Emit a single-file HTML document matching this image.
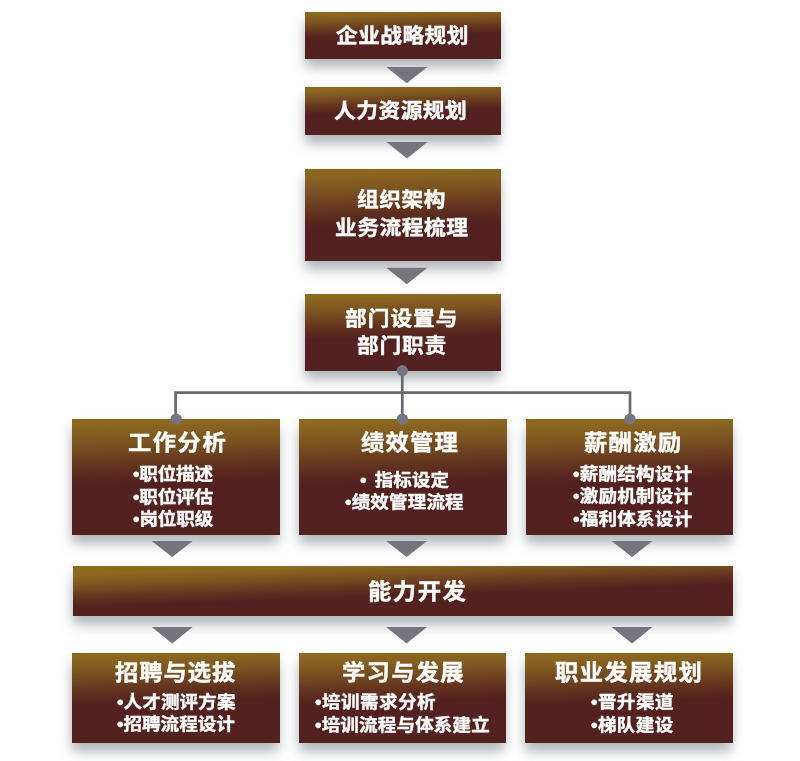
<!DOCTYPE html><html lang="zh-CN"><head><meta charset="utf-8"><title>人力资源规划流程</title><style>
html,body{margin:0;padding:0;background:#fff}
#c{position:relative;width:800px;height:761px;overflow:hidden;background:#fff;font-family:"Liberation Sans","Noto Sans CJK SC",sans-serif;font-weight:700;color:#fff}
.b{position:absolute;box-shadow:-1px 10px 12px -1px rgba(60,70,82,.34),0 4px 10px 0 rgba(60,70,82,.10)}
.t{position:absolute;white-space:nowrap;line-height:1;margin:0;-webkit-text-stroke:.4px #fff;transform:scaleX(1.06);transform-origin:0 0;will-change:transform}
svg{position:absolute;left:0;top:0}
</style></head><body><div id="c">
<div class="b" style="left:305.0px;top:12.0px;width:196.0px;height:47.4px;background:linear-gradient(178.3deg,#8d6920 0%,#8d6920 5.0%,#855f20 12.7%,#7b5320 20.3%,#704520 28.0%,#65371f 35.7%,#5b2b1f 43.3%,#53211f 51.0%,#53211f 100%)"></div>
<div class="b" style="left:305.0px;top:87.0px;width:196.0px;height:47.5px;background:linear-gradient(178.3deg,#8d6920 0%,#8d6920 5.0%,#855f20 12.7%,#7b5320 20.3%,#704520 28.0%,#65371f 35.7%,#5b2b1f 43.3%,#53211f 51.0%,#53211f 100%)"></div>
<div class="b" style="left:305.0px;top:169.4px;width:196.0px;height:91.4px;background:linear-gradient(178.3deg,#8d6920 0%,#8d6920 4.0%,#855f20 13.3%,#7b5320 22.7%,#704520 32.0%,#65371f 41.3%,#5b2b1f 50.7%,#53211f 60.0%,#53211f 100%)"></div>
<div class="b" style="left:305.0px;top:294.0px;width:196.0px;height:76.5px;background:linear-gradient(178.3deg,#8d6920 0%,#8d6920 4.0%,#855f20 12.7%,#7b5320 21.3%,#704520 30.0%,#65371f 38.7%,#5b2b1f 47.3%,#53211f 56.0%,#53211f 100%)"></div>
<div class="b" style="left:72.3px;top:419.0px;width:207.7px;height:116.0px;background:linear-gradient(178.3deg,#8d6920 0%,#8d6920 4.0%,#855f20 12.3%,#7b5320 20.7%,#704520 29.0%,#65371f 37.3%,#5b2b1f 45.7%,#53211f 54.0%,#53211f 100%)"></div>
<div class="b" style="left:298.5px;top:419.0px;width:208.0px;height:116.0px;background:linear-gradient(178.3deg,#8d6920 0%,#8d6920 4.0%,#855f20 12.3%,#7b5320 20.7%,#704520 29.0%,#65371f 37.3%,#5b2b1f 45.7%,#53211f 54.0%,#53211f 100%)"></div>
<div class="b" style="left:525.5px;top:419.0px;width:207.6px;height:116.0px;background:linear-gradient(178.3deg,#8d6920 0%,#8d6920 4.0%,#855f20 12.3%,#7b5320 20.7%,#704520 29.0%,#65371f 37.3%,#5b2b1f 45.7%,#53211f 54.0%,#53211f 100%)"></div>
<div class="b" style="left:73.0px;top:566.0px;width:660.2px;height:49.8px;background:linear-gradient(178deg,#8d6920 0%,#8d6920 12.0%,#855f20 19.5%,#7b5320 27.0%,#704520 34.5%,#65371f 42.0%,#5b2b1f 49.5%,#53211f 57.0%,#53211f 100%)"></div>
<div class="b" style="left:72.3px;top:652.5px;width:207.7px;height:90.1px;background:linear-gradient(178.3deg,#8d6920 0%,#8d6920 4.0%,#855f20 12.3%,#7b5320 20.7%,#704520 29.0%,#65371f 37.3%,#5b2b1f 45.7%,#53211f 54.0%,#53211f 100%)"></div>
<div class="b" style="left:298.5px;top:652.5px;width:207.7px;height:90.1px;background:linear-gradient(178.3deg,#8d6920 0%,#8d6920 4.0%,#855f20 12.3%,#7b5320 20.7%,#704520 29.0%,#65371f 37.3%,#5b2b1f 45.7%,#53211f 54.0%,#53211f 100%)"></div>
<div class="b" style="left:525.0px;top:652.5px;width:208.1px;height:90.1px;background:linear-gradient(178.3deg,#8d6920 0%,#8d6920 4.0%,#855f20 12.3%,#7b5320 20.7%,#704520 29.0%,#65371f 37.3%,#5b2b1f 45.7%,#53211f 54.0%,#53211f 100%)"></div>
<svg width="800" height="761" viewBox="0 0 800 761"><polygon points="386.3,66.9 427.3,66.9 406.8,83.2" fill="#76747c"/><polygon points="386.5,142.1 427.5,142.1 407.0,158.5" fill="#76747c"/><polygon points="386.3,267.7 427.3,267.7 406.8,284.2" fill="#76747c"/><polygon points="151.7,541.1 192.7,541.1 172.2,557.0" fill="#76747c"/><polygon points="386.1,541.1 427.1,541.1 406.6,557.0" fill="#76747c"/><polygon points="611.5,541.1 652.5,541.1 632.0,557.0" fill="#76747c"/><polygon points="151.7,627.1 192.7,627.1 172.2,643.4" fill="#76747c"/><polygon points="386.1,627.1 427.1,627.1 406.6,643.4" fill="#76747c"/><polygon points="611.5,627.1 652.5,627.1 632.0,643.4" fill="#76747c"/><path d="M175.6,419 V392.7 H630 V419 M402.3,370.6 V419" fill="none" stroke="#69696f" stroke-width="2.7"/><circle cx="402.3" cy="370.6" r="5.6" fill="#767785"/><circle cx="176.2" cy="419.0" r="5.6" fill="#767785"/><circle cx="402.4" cy="419.0" r="5.6" fill="#767785"/><circle cx="630.0" cy="419.0" r="5.6" fill="#767785"/></svg>
<div class="t" style="left:335.80px;top:26.20px;font-size:20.5px;letter-spacing:0.39px">企业战略规划</div>
<div class="t" style="left:334.28px;top:100.80px;font-size:20.5px;letter-spacing:0.46px">人力资源规划</div>
<div class="t" style="left:357.07px;top:190.40px;font-size:20.5px;letter-spacing:0.48px">组织架构</div>
<div class="t" style="left:334.65px;top:217.74px;font-size:20.5px;letter-spacing:0.50px">业务流程梳理</div>
<div class="t" style="left:345.20px;top:309.20px;font-size:20.5px;letter-spacing:0.91px">部门设置与</div>
<div class="t" style="left:357.20px;top:336.40px;font-size:20.5px;letter-spacing:0.74px">部门职责</div>
<div class="t" style="left:127.93px;top:432.12px;font-size:22px;letter-spacing:1.40px">工作分析</div>
<div class="t" style="left:360.85px;top:432.15px;font-size:22px;letter-spacing:1.11px">绩效管理</div>
<div class="t" style="left:583.64px;top:432.12px;font-size:22px;letter-spacing:1.21px">薪酬激励</div>
<div class="t" style="left:132.60px;top:466.40px;font-size:17.5px;letter-spacing:-0.18px">•职位描述</div>
<div class="t" style="left:132.60px;top:489.40px;font-size:17.5px;letter-spacing:-0.17px">•职位评估</div>
<div class="t" style="left:132.60px;top:511.00px;font-size:17.5px;letter-spacing:-0.09px">•岗位职级</div>
<div class="t" style="left:359.60px;top:472.20px;font-size:17.5px;letter-spacing:-0.01px;word-spacing:3px">• 指标设定</div>
<div class="t" style="left:344.60px;top:493.57px;font-size:17.5px;letter-spacing:0.13px">•绩效管理流程</div>
<div class="t" style="left:573.20px;top:466.00px;font-size:17.5px;letter-spacing:0.23px">•薪酬结构设计</div>
<div class="t" style="left:573.20px;top:487.80px;font-size:17.5px;letter-spacing:0.23px">•激励机制设计</div>
<div class="t" style="left:573.20px;top:510.60px;font-size:17.5px;letter-spacing:0.23px">•福利体系设计</div>
<div class="t" style="left:368.01px;top:580.80px;font-size:22px;letter-spacing:1.42px">能力开发</div>
<div class="t" style="left:115.39px;top:661.53px;font-size:22px;letter-spacing:0.89px">招聘与选拔</div>
<div class="t" style="left:341.60px;top:661.56px;font-size:22px;letter-spacing:1.18px">学习与发展</div>
<div class="t" style="left:555.23px;top:662.00px;font-size:22px;letter-spacing:1.28px">职业发展规划</div>
<div class="t" style="left:116.60px;top:693.80px;font-size:17.5px;letter-spacing:0.10px">•人才测评方案</div>
<div class="t" style="left:116.60px;top:715.80px;font-size:17.5px;letter-spacing:-0.00px">•招聘流程设计</div>
<div class="t" style="left:314.80px;top:694.00px;font-size:17.5px;letter-spacing:0.42px">•培训需求分析</div>
<div class="t" style="left:314.80px;top:716.55px;font-size:17.5px;letter-spacing:0.14px">•培训流程与体系建立</div>
<div class="t" style="left:590.80px;top:693.93px;font-size:17.5px;letter-spacing:0.42px">•晋升渠道</div>
<div class="t" style="left:590.80px;top:717.40px;font-size:17.5px;letter-spacing:0.38px">•梯队建设</div>
</div></body></html>
